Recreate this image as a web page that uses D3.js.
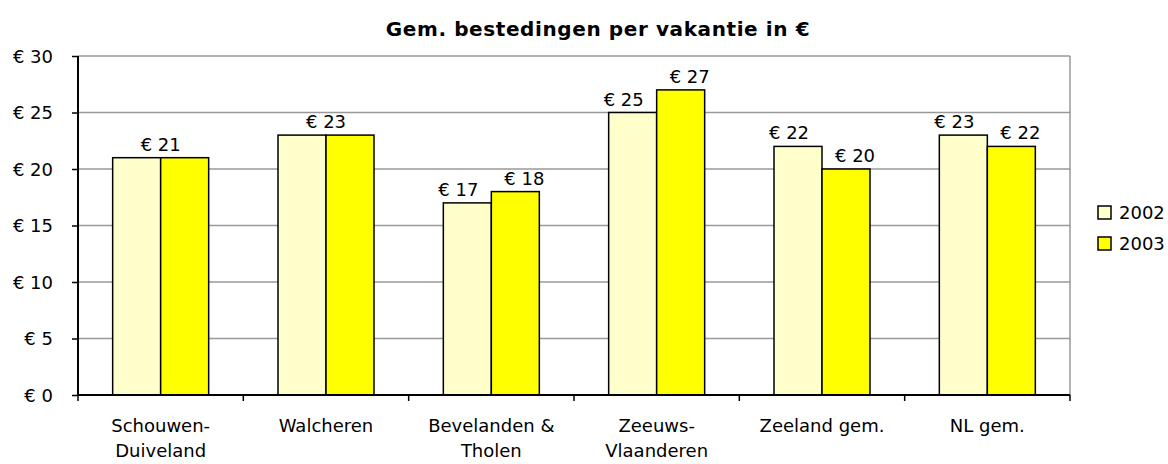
<!DOCTYPE html>
<html>
<head>
<meta charset="utf-8">
<script src="https://cdn.jsdelivr.net/npm/d3@7"></script>
<style>
  body { margin: 0; background: #fff; }
  svg text { font-family: "DejaVu Sans", sans-serif; fill: #000; }
</style>
</head>
<body>
<div id="chart"></div>
<script>
// chart data
const categories = [["Schouwen-", "Duiveland"], ["Walcheren"], ["Bevelanden &", "Tholen"],
                    ["Zeeuws-", "Vlaanderen"], ["Zeeland gem."], ["NL gem."]];
const seriesNames = ["2002", "2003"];
const values2002 = [21, 23, 17, 25, 22, 23];
const values2003 = [21, 23, 18, 27, 20, 22];
const yTicks = [0, 5, 10, 15, 20, 25, 30];

const colors = ["#FFFFCC", "#FFFF00"];
const width = 1168, height = 464;
const margin = { top: 56, right: 98, bottom: 69, left: 78 };
const plotW = width - margin.left - margin.right;
const plotH = height - margin.top - margin.bottom;

const svg = d3.select('#chart').append('svg')
    .attr('width', width)
    .attr('height', height);

// title
svg.append('text')
    .attr('x', 598)
    .attr('y', 36)
    .attr('text-anchor', 'middle')
    .style('font-size', '20px')
    .style('font-weight', 'bold')
    .style('letter-spacing', '0.6px')
    .text('Gem. bestedingen per vakantie in €');

const g = svg.append('g').attr('transform', `translate(${margin.left},${margin.top})`);

const x = d3.scaleBand().domain(d3.range(categories.length)).range([0, plotW]);
const y = d3.scaleLinear().domain([0, 30]).range([plotH, 0]);
const barW = 48;

// gridlines
g.selectAll('.grid').data(yTicks.filter(d => d > 0)).enter().append('line')
    .attr('x1', 0).attr('x2', plotW)
    .attr('y1', d => y(d)).attr('y2', d => y(d))
    .attr('stroke', '#999').attr('stroke-width', 1.5);

// right border
g.append('line')
    .attr('x1', plotW).attr('x2', plotW)
    .attr('y1', 0).attr('y2', plotH)
    .attr('stroke', '#999').attr('stroke-width', 1.5);

// bars
const rows = categories.map((c, i) => ({ i, vals: [values2002[i], values2003[i]] }));

rows.forEach(r => {
    const cx = x(r.i) + x.bandwidth() / 2;
    r.vals.forEach((v, s) => {
        g.append('rect')
            .attr('x', cx - barW + s * barW)
            .attr('y', y(v))
            .attr('width', barW)
            .attr('height', y(0) - y(v))
            .attr('fill', colors[s])
            .attr('stroke', '#000')
            .attr('stroke-width', 1.5);
    });

    // value labels (merged when equal, nudged apart otherwise)
    if (r.vals[0] === r.vals[1]) {
        g.append('text')
            .attr('x', cx).attr('y', y(r.vals[0]) - 7)
            .attr('text-anchor', 'middle')
            .style('font-size', '18px')
            .text('€ ' + r.vals[0]);
    } else {
        r.vals.forEach((v, s) => {
            g.append('text')
                .attr('x', cx - barW / 2 + s * barW + (s === 0 ? -9 : 9))
                .attr('y', y(v) - 7)
                .attr('text-anchor', 'middle')
                .style('font-size', '18px')
                .text('€ ' + v);
        });
    }
});

// y axis
const yAxis = g.append('g')
    .call(d3.axisLeft(y).tickValues(yTicks).tickSize(6).tickFormat(d => '€ ' + d));
yAxis.select('.domain').attr('stroke', '#000').attr('stroke-width', 2).attr('d', `M0,${plotH}V0`);
yAxis.selectAll('.tick line').attr('stroke', '#000').attr('stroke-width', 1.5);
yAxis.selectAll('.tick text')
    .attr('x', -25)
    .attr('dy', '0.36em')
    .style('font-size', '18px')
    .style('font-family', '"DejaVu Sans", sans-serif');

// x axis
const xAxis = g.append('g').attr('transform', `translate(0,${plotH})`);
xAxis.append('line')
    .attr('x1', 0).attr('x2', plotW)
    .attr('stroke', '#000').attr('stroke-width', 2);
xAxis.selectAll('.xtick').data(d3.range(categories.length + 1)).enter().append('line')
    .attr('x1', d => d * x.bandwidth()).attr('x2', d => d * x.bandwidth())
    .attr('y1', 0).attr('y2', 6)
    .attr('stroke', '#000').attr('stroke-width', 1.5);

categories.forEach((lines, i) => {
    const t = xAxis.append('text')
        .attr('x', x(i) + x.bandwidth() / 2)
        .attr('y', 37)
        .attr('text-anchor', 'middle')
        .style('font-size', '18px');
    lines.forEach((ln, k) => {
        t.append('tspan')
            .attr('x', x(i) + x.bandwidth() / 2)
            .attr('dy', k === 0 ? 0 : 25)
            .text(ln);
    });
});

// legend
const legend = svg.append('g').attr('transform', 'translate(1098,206)');
seriesNames.forEach((name, s) => {
    legend.append('rect')
        .attr('x', 0).attr('y', s * 31)
        .attr('width', 13).attr('height', 13)
        .attr('fill', colors[s])
        .attr('stroke', '#000').attr('stroke-width', 1.5);
    legend.append('text')
        .attr('x', 21).attr('y', s * 31 + 13)
        .style('font-size', '18px')
        .text(name);
});
</script>
</body>
</html>
